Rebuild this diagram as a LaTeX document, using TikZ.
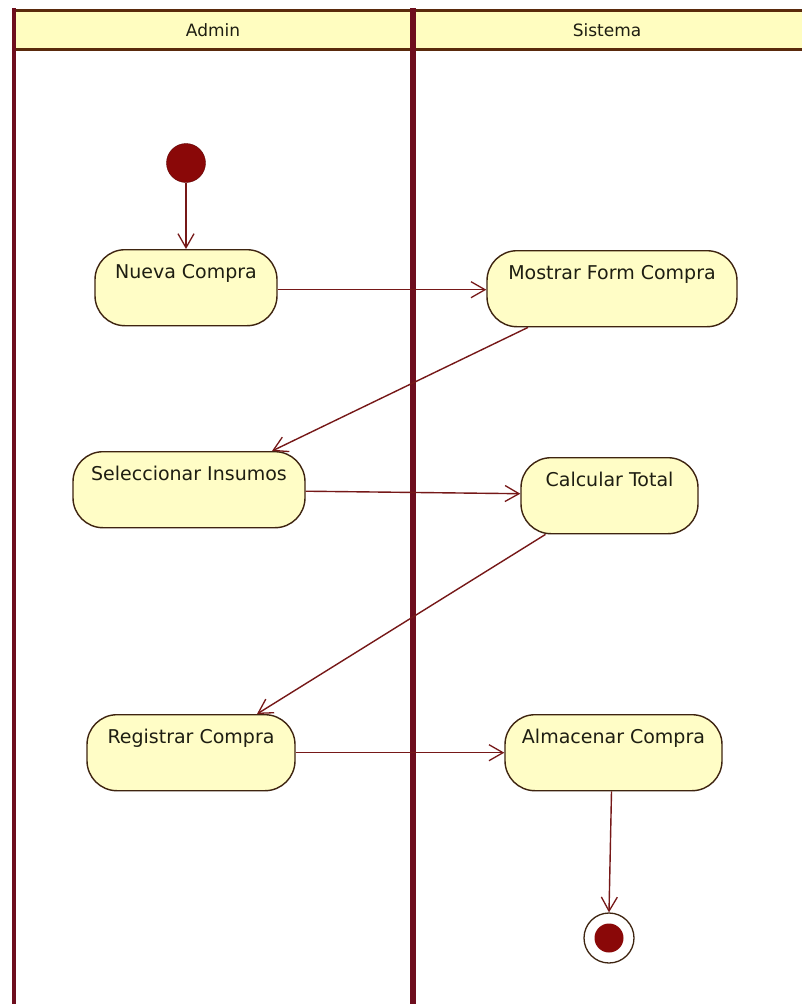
\documentclass[tikz,border=0pt]{standalone}
\usepackage{fontspec}
\setmainfont{DejaVu Sans}
\usetikzlibrary{arrows.meta,calc}

\definecolor{laneline}{HTML}{6E0E1E}
\definecolor{headline}{HTML}{5A2A0C}
\definecolor{headfill}{HTML}{FFFDC0}
\definecolor{actfill}{HTML}{FFFDC6}
\definecolor{actline}{HTML}{3E2410}
\definecolor{flow}{HTML}{761818}
\definecolor{dot}{HTML}{8A0808}
\definecolor{txt}{HTML}{1E1E12}

\tikzset{
  act/.style={rectangle, rounded corners=30pt, draw=actline, fill=actfill,
    line width=1.4pt, minimum width=#1, inner xsep=0pt, inner ysep=0pt,
    text height=29pt, text depth=47pt, anchor=north, text=txt,
    font=\fontsize{19}{23}\selectfont},
  flowline/.style={draw=flow, line width=1.4pt,
    -{Straight Barb[length=14pt,width=16pt,line width=1.3pt]}},
  lane/.style={draw=laneline},
}

\begin{document}
\begin{tikzpicture}[x=1pt,y=-1pt]
  \useasboundingbox (0,0) rectangle (801,1004);
  \fill[white] (0,0) rectangle (801,1004);

  % swimlane header
  \node[draw=headline, fill=headfill, line width=3pt, minimum width=800pt,
        minimum height=39pt, inner sep=0pt, anchor=north west] (header) at (12.5,9) {};
  \node[text=txt, font=\fontsize{17}{20}\selectfont] (admin) at (213,30) {Admin};
  \node[text=txt, font=\fontsize{17}{20}\selectfont] (sistema) at (607,30) {Sistema};

  % lane borders
  \coordinate (lt) at (13.5,8);
  \coordinate (lb) at (13.5,1004);
  \coordinate (dt) at (413,8);
  \coordinate (db) at (413,1004);
  \draw[lane, line width=4pt] (lt) -- (lb);
  \draw[lane, line width=6.5pt] (dt) -- (db);

  % initial and final states
  \node[circle, fill=dot, draw=dot!70!black, minimum size=39pt, inner sep=0pt] (start) at (186,163) {};
  \node[circle, draw=actline, fill=white, line width=1.3pt, minimum size=50pt, inner sep=0pt] (finish) at (609,938) {};
  \node[circle, fill=dot, minimum size=29pt, inner sep=0pt] (finishdot) at (609,938) {};

  % activities
  \node[act=182pt] (nueva) at (186,249) {Nueva Compra};
  \node[act=250pt] (mostrar) at (612,250) {Mostrar Form Compra};
  \node[act=232pt] (selec) at (189,451) {Seleccionar Insumos};
  \node[act=177pt] (calc) at (609.5,457) {Calcular Total};
  \node[act=208pt] (reg) at (191,714) {Registrar Compra};
  \node[act=217pt] (alm) at (613.5,714) {Almacenar Compra};

  % control flows
  \draw[flowline] (start) -- (nueva.north);
  \draw[flowline] ($(nueva.east)+(0,2)$) -- ($(mostrar.west)+(0,1)$);
  \draw[flowline] ($(mostrar.south)+(-84,0)$) -- ($(selec.north)+(83,0)$);
  \draw[flowline] ($(selec.east)+(0,1.5)$) -- ($(calc.west)+(0,-2)$);
  \draw[flowline] ($(calc.south)+(-64,0)$) -- ($(reg.north)+(66,0)$);
  \draw[flowline] (reg.east) -- (alm.west);
  \draw[flowline] ($(alm.south)+(-2,0)$) -- (finish.north);
\end{tikzpicture}
\end{document}
